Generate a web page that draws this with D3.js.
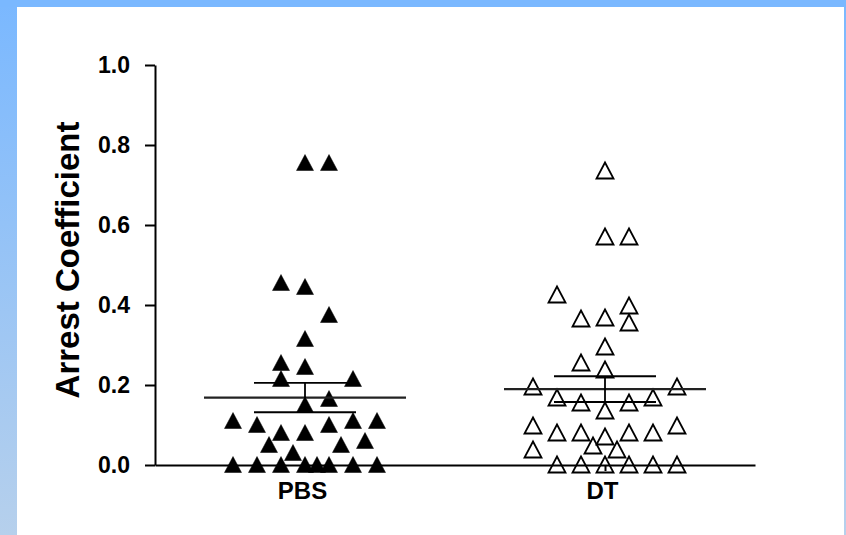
<!DOCTYPE html>
<html>
<head>
<meta charset="utf-8">
<script src="https://cdn.jsdelivr.net/npm/d3@7"></script>
<style>
  html, body { margin: 0; padding: 0; background: #fff; }
  svg { display: block; }
  text { font-family: "Liberation Sans", Arial, sans-serif; font-weight: bold; fill: #000; }
</style>
</head>
<body>
<svg id="chart" width="846" height="535"></svg>
<script>
// Groups on the x axis
const categories = ["PBS", "DT"];

// Arrest coefficient per animal, PBS group
const pbsValues = [0.755, 0.755, 0.455, 0.445, 0.375, 0.315, 0.255, 0.245, 0.215, 0.215,
                   0.165, 0.15, 0.11, 0.10, 0.10, 0.11, 0.11, 0.08, 0.08, 0.05,
                   0.05, 0.06, 0.03, 0, 0, 0, 0, 0, 0, 0, 0];
// Horizontal slot of each PBS point in the scatter column
const pbsLanes  = [0, 2, -2, 0, 2, 0, -2, 0, -2, 4,
                   2, 0, -6, -4, 2, 4, 6, -2, 0, -3,
                   3, 5, -1, -6, -4, -2, 0, 1, 2, 4, 6];

// Arrest coefficient per animal, DT group
const dtValues = [0.735, 0.57, 0.57, 0.425, 0.365, 0.3675, 0.3975, 0.355, 0.295, 0.255,
                  0.2375, 0.195, 0.195, 0.1675, 0.155, 0.135, 0.155, 0.1675, 0.0975, 0.08,
                  0.08, 0.07, 0.08, 0.08, 0.0975, 0.0475, 0.0375, 0.0375, 0, 0,
                  0, 0, 0, 0];
const dtLanes  = [0, 0, 2, -4, -2, 0, 2, 2, 0, -2,
                  0, -6, 6, -4, -2, 0, 2, 4, -6, -4,
                  -2, 0, 2, 4, 6, -1, 1, -6, -4, -2,
                  0, 2, 4, 6];

const yTicks = [0, 0.2, 0.4, 0.6, 0.8, 1.0];
const yTitle = "Arrest Coefficient";

const groups = [
  { name: categories[0], values: pbsValues, lanes: pbsLanes, filled: true },
  { name: categories[1], values: dtValues, lanes: dtLanes, filled: false }
];

const svg = d3.select("#chart");
const W = 846, H = 535;

// Frame: blue gradient strips round a white panel
const defs = svg.append("defs");
const side = defs.append("linearGradient").attr("id", "side")
  .attr("x1", 0).attr("y1", 0).attr("x2", 0).attr("y2", 1);
side.append("stop").attr("offset", "0%").attr("stop-color", "#7ab8ff");
side.append("stop").attr("offset", "100%").attr("stop-color", "#b6d0ec");
svg.append("rect").attr("width", W).attr("height", H).attr("fill", "url(#side)");
svg.append("rect").attr("x", 0).attr("y", 0).attr("width", W).attr("height", 7).attr("fill", "#7ab8ff");
svg.append("rect").attr("x", 17).attr("y", 7).attr("width", 827).attr("height", H - 7).attr("fill", "#ffffff");

// Scales
const x = d3.scalePoint().domain(categories).range([155, 755]).padding(0.5);
const y = d3.scaleLinear().domain([0, 1]).range([465, 65]);
const laneStep = 12;

// Points
const tri = "M0,-8.5L8.5,7.5L-8.5,7.5Z";
groups.forEach(g => {
  const cx = x(g.name);
  svg.append("g").selectAll("path")
    .data(g.values.map((v, i) => ({ v, lane: g.lanes[i] })))
    .join("path")
    .attr("d", tri)
    .attr("transform", d => `translate(${cx + d.lane * laneStep},${y(d.v)})`)
    .attr("fill", g.filled ? "#000" : "none")
    .attr("stroke", "#000")
    .attr("stroke-width", g.filled ? 0.5 : 1.8)
    .attr("stroke-linejoin", "miter");
});

// Mean line with SEM bars
groups.forEach(g => {
  const cx = x(g.name);
  const m = d3.mean(g.values);
  const sem = d3.deviation(g.values) / Math.sqrt(g.values.length);
  const gg = svg.append("g").attr("stroke", "#000");
  gg.append("line").attr("x1", cx - 101).attr("x2", cx + 101)
    .attr("y1", y(m)).attr("y2", y(m)).attr("stroke-width", 2.4).attr("stroke", "#222");
  gg.append("line").attr("x1", cx).attr("x2", cx)
    .attr("y1", y(m - sem)).attr("y2", y(m + sem)).attr("stroke-width", 1.8);
  [m - sem, m + sem].forEach(v => {
    gg.append("line").attr("x1", cx - 51).attr("x2", cx + 51)
      .attr("y1", y(v)).attr("y2", y(v)).attr("stroke-width", 1.8);
  });
});

// Axes
const yAxis = svg.append("g").attr("transform", "translate(155,0)")
  .call(d3.axisLeft(y).tickValues(yTicks).tickFormat(d3.format(".1f"))
    .tickSize(10).tickSizeOuter(0).tickPadding(15));
yAxis.selectAll("path, line").attr("stroke", "#000").attr("stroke-width", 2);
yAxis.selectAll("text").attr("font-size", 23).attr("font-family", null).attr("font-weight", null);

const xAxis = svg.append("g").attr("transform", "translate(0,465)")
  .call(d3.axisBottom(x).tickSize(6).tickSizeOuter(0).tickPadding(11));
xAxis.selectAll("path, line").attr("stroke", "#000").attr("stroke-width", 2);
xAxis.selectAll("text").attr("font-size", 24).attr("font-family", null).attr("font-weight", null)
  .attr("dx", -3);

// Y axis title
svg.append("text")
  .attr("transform", "translate(79,260) rotate(-90)")
  .attr("text-anchor", "middle")
  .attr("font-size", 33)
  .text(yTitle);
</script>
</body>
</html>
